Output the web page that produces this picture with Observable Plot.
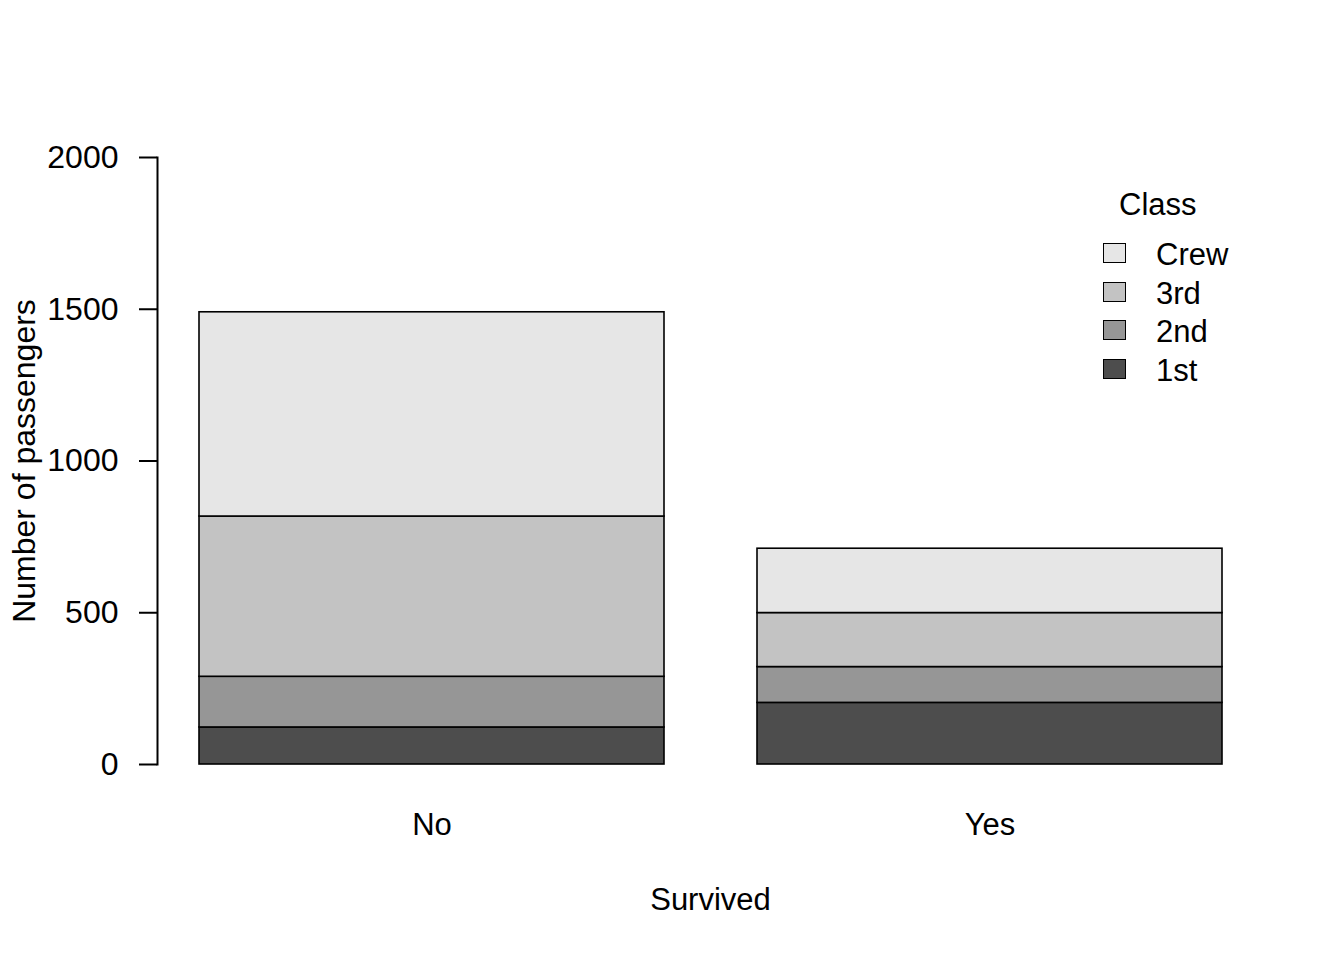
<!DOCTYPE html>
<html>
<head>
<meta charset="utf-8">
<script src="https://cdn.jsdelivr.net/npm/d3@7"></script>
<script src="https://cdn.jsdelivr.net/npm/@observablehq/plot@0.6"></script>
<style>
  body { margin: 0; background: #fff; }
  #wrap { position: relative; width: 1344px; height: 960px; font-family: "Liberation Sans", Arial, sans-serif; }
  #legend { position: absolute; left: 0; top: 0; font-size: 31px; color: #000; }
  .lg-title { position: absolute; left: 1119px; top: 186px; white-space: nowrap; line-height: 38px; }
  .lg-box { position: absolute; width: 23px; height: 20px; border: 1.5px solid #000; box-sizing: border-box; }
  .lg-label { position: absolute; white-space: nowrap; line-height: 38px; }
</style>
</head>
<body>
<div id="wrap"><div id="legend"></div></div>
<script>
const survived = ["No", "Yes"];
const classes = ["1st", "2nd", "3rd", "Crew"];
const countsNo = [122, 167, 528, 673];
const countsYes = [203, 118, 178, 212];
const classColors = ["#4D4D4D", "#969696", "#C3C3C3", "#E6E6E6"];
const yTicks = [0, 500, 1000, 1500, 2000];

const rows = [];
classes.forEach((c, i) => {
  rows.push({ Survived: "No", Class: c, n: countsNo[i] });
  rows.push({ Survived: "Yes", Class: c, n: countsYes[i] });
});

const chart = Plot.plot({
  width: 1344,
  height: 960,
  marginLeft: 157,
  marginRight: 81,
  marginTop: 157,
  marginBottom: 196,
  style: { fontFamily: "'Liberation Sans', Arial, sans-serif", fontSize: "31px", color: "#000", background: "#fff" },
  x: {
    domain: survived,
    paddingInner: 0.1667,
    paddingOuter: 0.0735,
    label: null
  },
  y: { domain: [0, 2000], label: null },
  color: { domain: classes, range: classColors },
  marks: [
    Plot.barY(rows, Plot.stackY({ order: classes }, {
      x: "Survived", y: "n", fill: "Class", z: "Class",
      stroke: "#000", strokeWidth: 1.6
    })),
    Plot.axisY({ ticks: yTicks, tickFormat: d => String(d), tickSize: 18, tickPadding: 21, strokeWidth: 2,
      label: "Number of passengers", labelAnchor: "center", labelArrow: "none", labelOffset: 145, fontSize: 32 }),
    Plot.frame({ anchor: "left", strokeWidth: 2 }),
    Plot.axisX({ tickSize: 0, tickPadding: 48,
      label: "Survived", labelAnchor: "center", labelArrow: "none", labelOffset: 145 })
  ]
});
document.getElementById("wrap").prepend(chart);
chart.style.position = "absolute";
chart.style.left = "0";
chart.style.top = "0";

// Legend (top to bottom: Crew, 3rd, 2nd, 1st)
const legend = document.getElementById("legend");
const t = document.createElement("div");
t.className = "lg-title";
t.textContent = "Class";
legend.appendChild(t);
const order = classes.slice().reverse();
order.forEach((c, i) => {
  const cy = 253 + i * 38.7;
  const b = document.createElement("div");
  b.className = "lg-box";
  b.style.left = "1103px";
  b.style.top = (cy - 10) + "px";
  b.style.background = classColors[classes.indexOf(c)];
  legend.appendChild(b);
  const l = document.createElement("div");
  l.className = "lg-label";
  l.style.left = "1156px";
  l.style.top = (cy - 19 + 2) + "px";
  l.textContent = c;
  legend.appendChild(l);
});
</script>
</body>
</html>
